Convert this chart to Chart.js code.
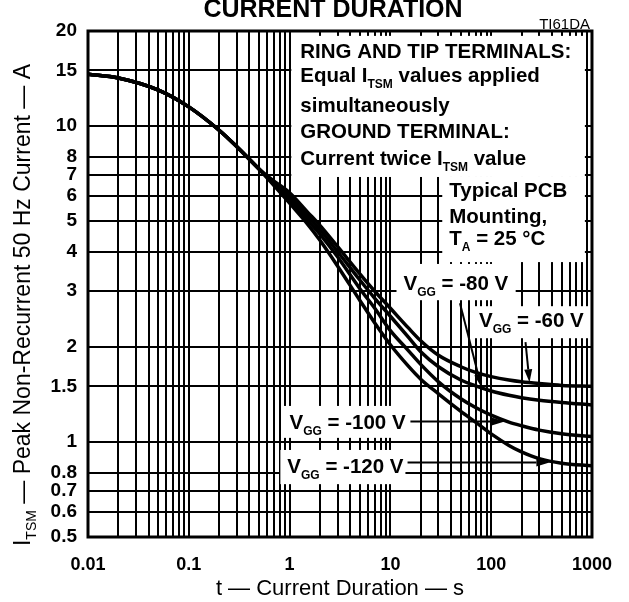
<!DOCTYPE html>
<html>
<head>
<meta charset="utf-8">
<script src="https://cdn.jsdelivr.net/npm/chart.js@4.4.1/dist/chart.umd.min.js"></script>
<style>
  html, body { margin: 0; padding: 0; background: #fff; }
  #wrap { width: 629px; height: 602px; }
</style>
</head>
<body>
<div id="wrap"><canvas id="chart" width="629" height="602"></canvas></div>
<script>
// current duration t (s), shared by all four curves
const durations = [0.01, 0.02, 0.05, 0.1, 0.2, 0.3, 0.5, 0.7, 1, 1.5, 2, 3, 5, 7, 10, 15, 20, 30, 50, 70, 100, 150, 200, 300, 500, 1000];

// peak non-recurrent 50 Hz current ITSM (A)
const itsmVgg60  = [14.6, 14.2, 13.0, 11.5, 9.7, 8.6, 7.3, 6.7, 6.15, 5.35, 4.85, 4.15, 3.4, 3.0, 2.65, 2.3, 2.09, 1.88, 1.73, 1.66, 1.61, 1.57, 1.55, 1.53, 1.51, 1.5];
const itsmVgg80  = [14.6, 14.2, 13.0, 11.5, 9.7, 8.6, 7.3, 6.62, 6.0, 5.2, 4.7, 4.0, 3.25, 2.85, 2.5, 2.15, 1.93, 1.73, 1.57, 1.505, 1.45, 1.405, 1.38, 1.355, 1.333, 1.31];
const itsmVgg100 = [14.6, 14.2, 13.0, 11.5, 9.7, 8.6, 7.3, 6.55, 5.85, 5.05, 4.55, 3.85, 3.05, 2.65, 2.25, 1.95, 1.76, 1.55, 1.37, 1.285, 1.215, 1.155, 1.125, 1.09, 1.062, 1.04];
const itsmVgg120 = [14.6, 14.2, 13.0, 11.5, 9.7, 8.6, 7.3, 6.48, 5.7, 4.9, 4.35, 3.6, 2.8, 2.38, 2.03, 1.74, 1.58, 1.42, 1.25, 1.155, 1.06, 0.975, 0.93, 0.885, 0.856, 0.84];

// axis ticks
const xDecades = [0.01, 0.1, 1, 10, 100, 1000];
const xTickLabels = ['0.01', '0.1', '1', '10', '100', '1000'];
const yTickValues = [20, 15, 10, 8, 7, 6, 5, 4, 3, 2, 1.5, 1, 0.8, 0.7, 0.6, 0.5];
const yTickLabels = ['20', '15', '10', '8', '7', '6', '5', '4', '3', '2', '1.5', '1', '0.8', '0.7', '0.6', '0.5'];

const FONT = '"Liberation Sans", Arial, Helvetica, sans-serif';

// minor grid: 1..9 x each decade
const xGridValues = [];
xDecades.forEach((d, i) => {
  if (i === xDecades.length - 1) { xGridValues.push(d); return; }
  for (let m = 1; m <= 9; m++) xGridValues.push(+(d * m).toPrecision(3));
});

function toPoints(ys) {
  return durations.map((t, i) => ({ x: t, y: ys[i] }));
}

// label boxes, corners in data units (t, A); text offsets in px from the box corner
const boxes = [
  { x0: 1.04, x1: 850, y0: 19.3, y1: 6.9, tx: 9, lines: [
      { base: 22, parts: [{ t: 'RING AND TIP TERMINALS:' }] },
      { base: 46, parts: [{ t: 'Equal I' }, { t: 'TSM', sub: true }, { t: ' values applied' }] },
      { base: 76, parts: [{ t: 'simultaneously' }] },
      { base: 102, parts: [{ t: 'GROUND TERMINAL:' }] },
      { base: 129, parts: [{ t: 'Current twice I' }, { t: 'TSM', sub: true }, { t: ' value' }] } ] },
  { x0: 32.7, x1: 850, y0: 6.9, y1: 3.71, tx: 7, lines: [
      { base: 20, parts: [{ t: 'Typical PCB' }] },
      { base: 46, parts: [{ t: 'Mounting,' }] },
      { base: 68, parts: [{ t: 'T' }, { t: 'A', sub: true }, { t: ' = 25 \u00b0C' }] } ] },
  { x0: 11.5, x1: 175, y0: 3.66, y1: 2.81, tx: 7, lines: [
      { base: 26, parts: [{ t: 'V' }, { t: 'GG', sub: true }, { t: ' = -80 V' }] } ] },
  { x0: 67.5, x1: 960, y0: 2.69, y1: 2.13, tx: 5, lines: [
      { base: 21, parts: [{ t: 'V' }, { t: 'GG', sub: true }, { t: ' = -60 V' }] } ] },
  { x0: 0.85, x1: 15.1, y0: 1.30, y1: 1.03, tx: 7, lines: [
      { base: 23, parts: [{ t: 'V' }, { t: 'GG', sub: true }, { t: ' = -100 V' }] } ] },
  { x0: 0.81, x1: 14.1, y0: 0.943, y1: 0.735, tx: 7, lines: [
      { base: 23, parts: [{ t: 'V' }, { t: 'GG', sub: true }, { t: ' = -120 V' }] } ] }
];

// arrows from label to curve, data units
const arrows = [
  { from: [49, 2.75], to: [80, 1.49] },
  { from: [219, 2.07], to: [240, 1.545] },
  { from: [15.8, 1.16], to: [136, 1.16] },
  { from: [14.8, 0.86], to: [378, 0.86] }
];

function drawRich(ctx, x, y, parts, size, weight) {
  let cx = x;
  parts.forEach(p => {
    const s = p.sub ? Math.round(size * 0.6) : size;
    ctx.font = weight + ' ' + s + 'px ' + FONT;
    ctx.fillText(p.t, cx, y + (p.sub ? size * 0.28 : 0));
    cx += ctx.measureText(p.t).width;
  });
  return cx - x;
}

function richWidth(ctx, parts, size, weight) {
  let w = 0;
  parts.forEach(p => {
    const s = p.sub ? Math.round(size * 0.6) : size;
    ctx.font = weight + ' ' + s + 'px ' + FONT;
    w += ctx.measureText(p.t).width;
  });
  return w;
}

const labelsPlugin = {
  id: 'labels',
  beforeDatasetsDraw(chart) {
    const { ctx, scales: { x, y } } = chart;
    ctx.save();
    boxes.forEach(b => {
      const left = x.getPixelForValue(b.x0), right = x.getPixelForValue(b.x1);
      const top = y.getPixelForValue(b.y0), bottom = y.getPixelForValue(b.y1);
      ctx.fillStyle = '#fff';
      ctx.fillRect(left, top, right - left, bottom - top);
      ctx.fillStyle = '#000';
      ctx.textBaseline = 'alphabetic';
      ctx.textAlign = 'left';
      b.lines.forEach(l => drawRich(ctx, left + b.tx, top + l.base, l.parts, 20.5, 'bold'));
    });
    ctx.restore();
  },
  afterDatasetsDraw(chart) {
    const { ctx, chartArea: a, scales: { x, y } } = chart;
    ctx.save();
    ctx.strokeStyle = '#000';
    ctx.fillStyle = '#000';
    ctx.lineWidth = 2;
    arrows.forEach(ar => {
      const x0 = x.getPixelForValue(ar.from[0]), y0 = y.getPixelForValue(ar.from[1]);
      const x1 = x.getPixelForValue(ar.to[0]), y1 = y.getPixelForValue(ar.to[1]);
      const ang = Math.atan2(y1 - y0, x1 - x0);
      const len = 13, half = 4;
      const bx = x1 - len * Math.cos(ang), by = y1 - len * Math.sin(ang);
      ctx.beginPath();
      ctx.moveTo(x0, y0);
      ctx.lineTo(bx, by);
      ctx.stroke();
      ctx.beginPath();
      ctx.moveTo(x1, y1);
      ctx.lineTo(bx + half * Math.sin(ang), by - half * Math.cos(ang));
      ctx.lineTo(bx - half * Math.sin(ang), by + half * Math.cos(ang));
      ctx.closePath();
      ctx.fill();
    });
    // frame
    ctx.lineWidth = 3;
    ctx.strokeRect(a.left, a.top, a.right - a.left, a.bottom - a.top);
    ctx.restore();
  },
  afterDraw(chart) {
    const { ctx, chartArea: a } = chart;
    ctx.save();
    ctx.fillStyle = '#000';
    ctx.textBaseline = 'alphabetic';
    ctx.textAlign = 'center';
    ctx.font = 'bold 25px ' + FONT;
    ctx.fillText('CURRENT DURATION', 333, 17);
    ctx.textAlign = 'right';
    ctx.font = '15px ' + FONT;
    ctx.fillText('TI61DA', 590, 29);
    ctx.textAlign = 'center';
    ctx.font = '22px ' + FONT;
    ctx.fillText('t \u2014 Current Duration \u2014 s', (a.left + a.right) / 2, 595);
    // y axis title, rotated
    const yParts = [{ t: 'I' }, { t: 'TSM', sub: true }, { t: ' \u2014 Peak Non-Recurrent 50 Hz Current \u2014 A' }];
    ctx.textAlign = 'left';
    const w = richWidth(ctx, yParts, 23, 'normal');
    ctx.translate(30, (a.top + a.bottom) / 2 + 21);
    ctx.rotate(-Math.PI / 2);
    drawRich(ctx, -w / 2, 0, yParts, 23, 'normal');
    ctx.restore();
  }
};

const curveStyle = { borderColor: '#000', borderWidth: 3.5, pointRadius: 0, fill: false, cubicInterpolationMode: 'monotone' };

new Chart(document.getElementById('chart'), {
  type: 'line',
  data: {
    datasets: [
      Object.assign({ label: 'VGG = -60 V', data: toPoints(itsmVgg60) }, curveStyle),
      Object.assign({ label: 'VGG = -80 V', data: toPoints(itsmVgg80) }, curveStyle),
      Object.assign({ label: 'VGG = -100 V', data: toPoints(itsmVgg100) }, curveStyle),
      Object.assign({ label: 'VGG = -120 V', data: toPoints(itsmVgg120) }, curveStyle)
    ]
  },
  options: {
    responsive: false,
    animation: false,
    layout: { padding: { top: 31, right: 33, left: 0, bottom: 0 } },
    plugins: { legend: { display: false }, tooltip: { enabled: false }, title: { display: false } },
    scales: {
      x: {
        type: 'logarithmic',
        min: 0.01, max: 1000,
        afterBuildTicks: s => { s.ticks = xGridValues.map(v => ({ value: v })); },
        afterFit: s => { s.height = 65; },
        grid: { color: '#000', lineWidth: 2, drawTicks: false },
        border: { display: false },
        ticks: {
          autoSkip: false, maxRotation: 0, padding: 17, color: '#000',
          font: { family: FONT, size: 18, weight: 'bold' },
          callback: v => {
            const i = xDecades.findIndex(d => Math.abs(d - v) / d < 1e-6);
            return i >= 0 ? xTickLabels[i] : '';
          }
        }
      },
      y: {
        type: 'logarithmic',
        min: 0.5, max: 20,
        afterBuildTicks: s => { s.ticks = yTickValues.map(v => ({ value: v })); },
        afterFit: s => { s.width = 88; },
        grid: { color: '#000', lineWidth: 2, drawTicks: false },
        border: { display: false },
        ticks: {
          autoSkip: false, padding: 11, color: '#000',
          font: { family: FONT, size: 19, weight: 'bold' },
          callback: v => {
            const i = yTickValues.findIndex(d => Math.abs(d - v) / d < 1e-6);
            return i >= 0 ? yTickLabels[i] : '';
          }
        }
      }
    }
  },
  plugins: [labelsPlugin]
});
</script>
</body>
</html>
